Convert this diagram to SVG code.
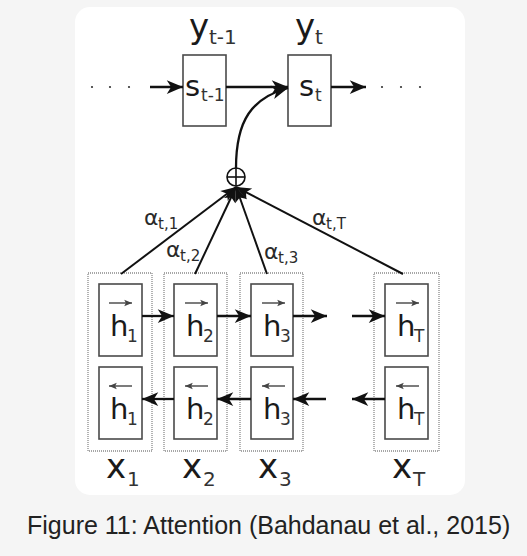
<svg xmlns="http://www.w3.org/2000/svg" width="527" height="556" viewBox="0 0 527 556">
<style>
.t{font-family:"DejaVu Sans",sans-serif;fill:#1a1a1a}
.big{font-size:34px}
.mid{font-size:29px}
.sub{font-size:20px;fill:#333}
.ssub{font-size:17px;fill:#333}
.al{font-size:22px;fill:#2a2a2a}
.asub{font-size:15px;fill:#2a2a2a}
.box{fill:#fff;stroke:#4a4a4a;stroke-width:1.6}
.dot{fill:none;stroke:#8a8a8a;stroke-width:1.3;stroke-dasharray:1 1}
.arr{fill:none;stroke:#111;stroke-width:2.3;marker-end:url(#ah)}
.att{fill:none;stroke:#111;stroke-width:2;marker-end:url(#ah2)}
.vec{fill:none;stroke:#444;stroke-width:1.4;marker-end:url(#va)}
.cap{font-family:"Liberation Sans",Arial,sans-serif;font-size:25px;fill:#222}
</style>
<defs>
<marker id="ah" markerUnits="userSpaceOnUse" markerWidth="20" markerHeight="20" refX="0" refY="0" viewBox="-14 -7 16 14" orient="auto">
<path d="M0,0 L-13,-5.5 L-9.5,0 L-13,5.5 Z" fill="#111"/>
</marker>
<marker id="ah2" markerUnits="userSpaceOnUse" markerWidth="20" markerHeight="20" refX="0" refY="0" viewBox="-14 -7 16 14" orient="auto">
<path d="M0,0 L-12,-5 L-9,0 L-12,5 Z" fill="#111"/>
</marker>
<marker id="va" markerUnits="userSpaceOnUse" markerWidth="10" markerHeight="10" refX="0" refY="0" viewBox="-8 -4 9 8" orient="auto">
<path d="M0,0 L-7,-3 L-5.5,0 L-7,3 Z" fill="#444"/>
</marker>
</defs>
<rect x="0" y="0" width="527" height="556" fill="#f5f5f5"/>
<rect x="75" y="7" width="390" height="488" rx="15" fill="#fff"/>

<g id="dots">
<circle cx="92" cy="87" r="1.1" fill="#333"/><circle cx="110" cy="87" r="1.1" fill="#333"/><circle cx="129" cy="87" r="1.1" fill="#333"/>
<circle cx="382" cy="87" r="1.1" fill="#333"/><circle cx="401" cy="87" r="1.1" fill="#333"/><circle cx="420" cy="87" r="1.1" fill="#333"/>
</g>

<g id="s_tm1">
<rect class="box" x="183" y="55" width="43" height="71"/>
<text class="t mid" x="185" y="96">s</text><text class="t ssub" x="201" y="101">t-1</text>
<text class="t big" x="189" y="38">y</text><text class="t sub" x="209" y="44">t-1</text>
</g>
<g id="s_t">
<rect class="box" x="288" y="55" width="43" height="71"/>
<text class="t mid" x="299" y="96">s</text><text class="t ssub" x="315" y="101">t</text>
<text class="t big" x="295" y="38">y</text><text class="t sub" x="315" y="44">t</text>
</g>

<g id="sum">
<circle cx="236" cy="177" r="9" fill="#fff" stroke="#111" stroke-width="1.6"/>
<line x1="227" y1="177" x2="245" y2="177" stroke="#111" stroke-width="1.6"/>
<line x1="236" y1="168" x2="236" y2="186" stroke="#111" stroke-width="1.6"/>
</g>

<g id="x1">
<rect class="dot" x="88" y="273" width="64" height="178"/>
<rect class="box" x="99" y="284" width="43" height="72"/>
<rect class="box" x="99" y="367" width="43" height="72"/>
<line class="vec" x1="109" y1="303" x2="132" y2="303"/>
<text class="t mid" x="110" y="336">h</text><text class="t ssub" x="127" y="342">1</text>
<line class="vec" x1="132" y1="386" x2="109" y2="386"/>
<text class="t mid" x="110" y="419">h</text><text class="t ssub" x="127" y="425">1</text>
<text class="t big" x="106" y="478">x</text><text class="t sub" x="127" y="486">1</text>
</g>
<g id="x2">
<rect class="dot" x="164" y="273" width="63" height="178"/>
<rect class="box" x="174" y="284" width="43" height="72"/>
<rect class="box" x="174" y="367" width="43" height="72"/>
<line class="vec" x1="185" y1="303" x2="208" y2="303"/>
<text class="t mid" x="186" y="336">h</text><text class="t ssub" x="203" y="342">2</text>
<line class="vec" x1="208" y1="386" x2="185" y2="386"/>
<text class="t mid" x="186" y="419">h</text><text class="t ssub" x="203" y="425">2</text>
<text class="t big" x="182" y="478">x</text><text class="t sub" x="203" y="486">2</text>
</g>
<g id="x3">
<rect class="dot" x="240" y="273" width="63" height="178"/>
<rect class="box" x="251" y="284" width="42" height="72"/>
<rect class="box" x="251" y="367" width="42" height="72"/>
<line class="vec" x1="262" y1="303" x2="285" y2="303"/>
<text class="t mid" x="263" y="336">h</text><text class="t ssub" x="280" y="342">3</text>
<line class="vec" x1="285" y1="386" x2="262" y2="386"/>
<text class="t mid" x="263" y="419">h</text><text class="t ssub" x="280" y="425">3</text>
<text class="t big" x="258" y="478">x</text><text class="t sub" x="279" y="486">3</text>
</g>
<g id="xT">
<rect class="dot" x="374" y="273" width="65" height="178"/>
<rect class="box" x="385" y="284" width="43" height="72"/>
<rect class="box" x="385" y="367" width="43" height="72"/>
<line class="vec" x1="396" y1="303" x2="419" y2="303"/>
<text class="t mid" x="397" y="336">h</text><text class="t ssub" x="414" y="342">T</text>
<line class="vec" x1="419" y1="386" x2="396" y2="386"/>
<text class="t mid" x="397" y="419">h</text><text class="t ssub" x="414" y="425">T</text>
<text class="t big" x="392" y="478">x</text><text class="t sub" x="413" y="486">T</text>
</g>

<g id="connectors">
<line class="arr" x1="150" y1="87" x2="183" y2="87"/>
<line class="arr" x1="226" y1="87" x2="288" y2="87"/>
<line class="arr" x1="331" y1="87" x2="366" y2="87"/>
<path class="arr" d="M236,168 C236,120 252,98 288,88"/>
<line class="att" x1="121" y1="274" x2="236" y2="187"/>
<line class="att" x1="195" y1="274" x2="236" y2="187"/>
<line class="att" x1="267" y1="274" x2="236" y2="187"/>
<line class="att" x1="403" y1="274" x2="236" y2="187"/>
<line class="arr" x1="142" y1="316" x2="174" y2="316"/>
<line class="arr" x1="217" y1="316" x2="251" y2="316"/>
<line class="arr" x1="293" y1="316" x2="327" y2="316"/>
<line class="arr" x1="352" y1="316" x2="385" y2="316"/>
<line class="arr" x1="174" y1="399" x2="142" y2="399"/>
<line class="arr" x1="251" y1="399" x2="217" y2="399"/>
<line class="arr" x1="326" y1="399" x2="293" y2="399"/>
<line class="arr" x1="385" y1="399" x2="352" y2="399"/>
</g>

<g id="labels">
<text class="t al" x="144" y="225">α</text><text class="t asub" x="158" y="229">t,1</text>
<text class="t al" x="166" y="257">α</text><text class="t asub" x="180" y="261">t,2</text>
<text class="t al" x="264" y="259">α</text><text class="t asub" x="278" y="263">t,3</text>
<text class="t al" x="312" y="225">α</text><text class="t asub" x="326" y="229">t,T</text>
</g>

<text class="cap" x="27" y="534">Figure 11: Attention (Bahdanau et al., 2015)</text>
</svg>
